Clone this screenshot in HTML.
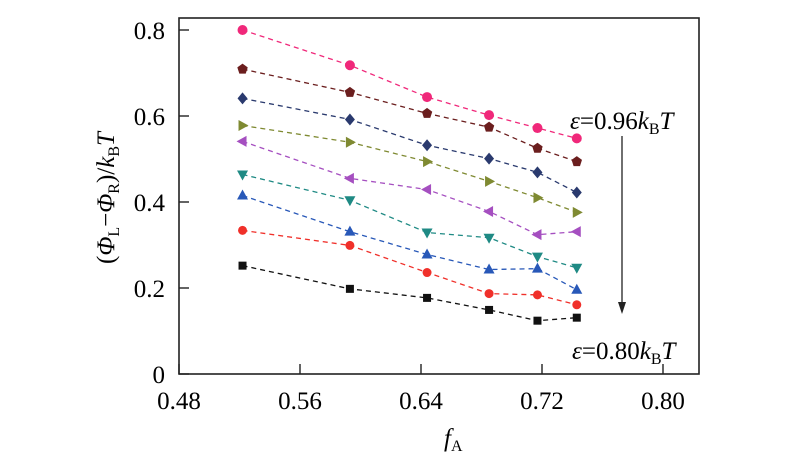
<!DOCTYPE html>
<html><head><meta charset="utf-8"><style>
body{margin:0;background:#fff;}
svg, svg text{font-family:"Liberation Serif","DejaVu Serif",serif;}
</style></head><body>
<svg id="chart" width="800" height="464" viewBox="0 0 800 464" font-family="Liberation Serif, serif">
<rect x="179" y="18" width="520" height="356" fill="none" stroke="#222" stroke-width="1.6"/>
<g id="marks"></g>
<g id="axes"></g>
<text x="114" y="198" font-size="25" text-anchor="middle" transform="rotate(-90 114 198)">(<tspan font-style="italic">Φ</tspan><tspan font-size="16" dy="5">L</tspan><tspan dy="-5">−</tspan><tspan font-style="italic">Φ</tspan><tspan font-size="16" dy="5">R</tspan><tspan dy="-5">)/</tspan><tspan font-style="italic">k</tspan><tspan font-size="16" dy="5">B</tspan><tspan dy="-5" font-style="italic">T</tspan></text>
<text x="444" y="446" font-size="25"><tspan font-style="italic">f</tspan><tspan font-size="16" dy="5">A</tspan></text>
<text x="570" y="129" font-size="25"><tspan font-style="italic">ε</tspan>=0.96<tspan font-style="italic">k</tspan><tspan font-size="16" dy="5">B</tspan><tspan dy="-5" font-style="italic">T</tspan></text>
<text x="572" y="359" font-size="25"><tspan font-style="italic">ε</tspan>=0.80<tspan font-style="italic">k</tspan><tspan font-size="16" dy="5">B</tspan><tspan dy="-5" font-style="italic">T</tspan></text>
<line x1="622" y1="136" x2="622" y2="304" stroke="#222" stroke-width="1.3"/>
<polygon points="618,302 626,302 622,314" fill="#222"/>
<script>
const xs = [0.522, 0.593, 0.644, 0.685, 0.717, 0.743];
const s1 = [0.800, 0.718, 0.644, 0.602, 0.572, 0.548];
const s2 = [0.709, 0.655, 0.606, 0.574, 0.525, 0.494];
const s3 = [0.641, 0.592, 0.532, 0.501, 0.469, 0.422];
const s4 = [0.578, 0.539, 0.494, 0.448, 0.410, 0.376];
const s5 = [0.541, 0.455, 0.429, 0.378, 0.324, 0.331];
const s6 = [0.464, 0.404, 0.329, 0.317, 0.273, 0.247];
const s7 = [0.415, 0.331, 0.278, 0.243, 0.245, 0.196];
const s8 = [0.334, 0.299, 0.236, 0.187, 0.184, 0.161];
const s9 = [0.252, 0.198, 0.177, 0.149, 0.124, 0.131];
const xTicks = [0.48, 0.56, 0.64, 0.72, 0.80];
const yTicks = [0, 0.2, 0.4, 0.6, 0.8];
const yTickLabels = ["0", "0.2", "0.4", "0.6", "0.8"];
const series = [
 {v:s1,c:"#f0287a",m:"hex"},{v:s2,c:"#6b1e1e",m:"pent"},{v:s3,c:"#2a3a6e",m:"diamond"},
 {v:s4,c:"#7f8a32",m:"right"},{v:s5,c:"#a54fc0",m:"left"},{v:s6,c:"#1f8a84",m:"down"},
 {v:s7,c:"#2858b8",m:"up"},{v:s8,c:"#f0302a",m:"circle"},{v:s9,c:"#111",m:"square"}];
const X = v => 179 + (v - 0.48) / 0.08 * 121;
const Y = v => 374 - v / 0.8 * 344;
const NS = "http://www.w3.org/2000/svg";
const marks = document.getElementById("marks"), axes = document.getElementById("axes");
function mk(tag, attrs, parent){const e=document.createElementNS(NS,tag);for(const k in attrs)e.setAttribute(k,attrs[k]);parent.appendChild(e);return e;}
xTicks.forEach((t,i)=>{
  const l = mk("line",{x1:X(t),x2:X(t),y1:374,y2:364,stroke:"#222","stroke-width":1.4},axes);
  
  
  const tx = mk("text",{x:X(t),y:409,"font-size":25,"text-anchor":"middle"},axes);
  tx.textContent = t.toFixed(2);
  
  
});
yTicks.forEach((t,i)=>{
  const l = mk("line",{x1:179,x2:189,y1:Y(t),y2:Y(t),stroke:"#222","stroke-width":1.4},axes);
  
  
  const tx = mk("text",{x:165,y:Y(t)+9,"font-size":25,"text-anchor":"end"},axes);
  tx.textContent = yTickLabels[i];
  
  
});
function marker(m,x,y,c){
  let pts;
  if(m==="circle"||m==="hex") return mk("circle",{cx:x,cy:y,r:m==="hex"?5:4.5,fill:c},marks);
  if(m==="square") return mk("rect",{x:x-4,y:y-4,width:8,height:8,fill:c},marks);
  if(m==="diamond") pts=[[0,-6],[5,0],[0,6],[-5,0]];
  if(m==="pent") pts=[[0,-5.5],[5.2,-1.7],[3.2,4.5],[-3.2,4.5],[-5.2,-1.7]];
  if(m==="up") pts=[[0,-6],[5.5,4],[-5.5,4]];
  if(m==="down") pts=[[0,6],[5.5,-4],[-5.5,-4]];
  if(m==="right") pts=[[6,0],[-4,-5.5],[-4,5.5]];
  if(m==="left") pts=[[-6,0],[4,-5.5],[4,5.5]];
  return mk("polygon",{points:pts.map(p=>(x+p[0])+","+(y+p[1])).join(" "),fill:c},marks);
}
series.forEach((s,si)=>{
  const p = mk("polyline",{points:xs.map((x,i)=>X(x)+","+Y(s.v[i])).join(" "),fill:"none",stroke:s.c,"stroke-width":1.3,"stroke-dasharray":"5,4"},marks);
  
  
  xs.forEach((x,i)=>{
    const e = marker(s.m,X(x),Y(s.v[i]),s.c);
    
    
  });
});
</script>
</svg>
</body></html>
